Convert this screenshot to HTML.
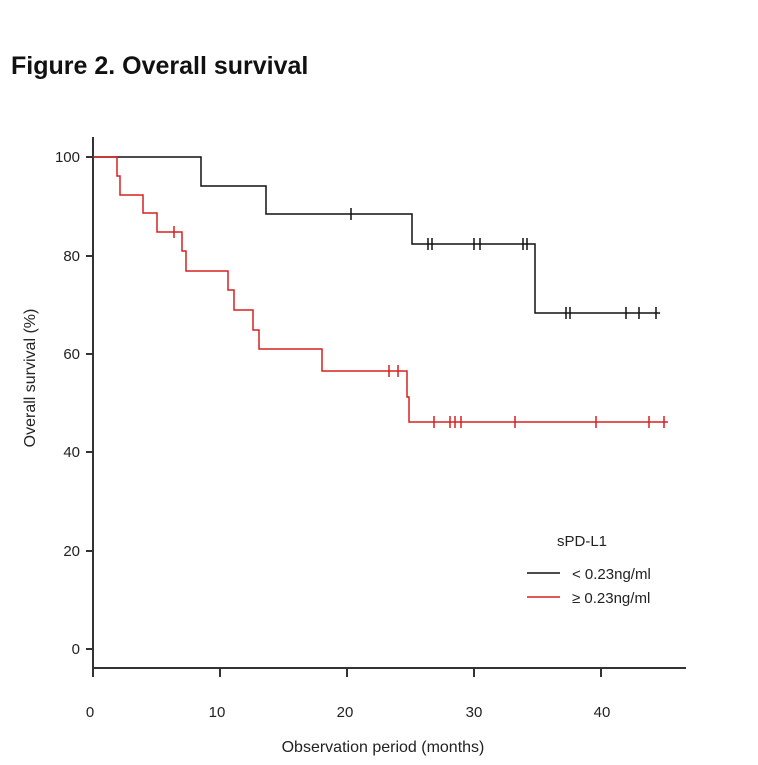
<!DOCTYPE html>
<html><head><meta charset="utf-8"><style>
body{margin:0;background:#fff;width:758px;height:760px;overflow:hidden}
</style></head><body>
<svg width="758" height="760" xmlns="http://www.w3.org/2000/svg" font-family="Liberation Sans, sans-serif">
<text x="11" y="74" font-size="25" font-weight="bold" fill="#111">Figure 2. Overall survival</text>
<g stroke="#333" stroke-width="2" fill="none">
<line x1="93" y1="137" x2="93" y2="668"/>
<line x1="93" y1="668" x2="686" y2="668"/>
<line x1="86" y1="157" x2="93" y2="157"/><line x1="86" y1="256" x2="93" y2="256"/>
<line x1="86" y1="354" x2="93" y2="354"/><line x1="86" y1="452" x2="93" y2="452"/>
<line x1="86" y1="551" x2="93" y2="551"/><line x1="86" y1="649" x2="93" y2="649"/>
<line x1="93" y1="668" x2="93" y2="677"/><line x1="220" y1="668" x2="220" y2="677"/>
<line x1="347" y1="668" x2="347" y2="677"/><line x1="474" y1="668" x2="474" y2="677"/>
<line x1="601" y1="668" x2="601" y2="677"/>
</g>
<g font-size="15" fill="#222" text-anchor="end">
<text x="80" y="162">100</text><text x="80" y="261">80</text><text x="80" y="359">60</text>
<text x="80" y="457">40</text><text x="80" y="556">20</text><text x="80" y="654">0</text>
</g>
<g font-size="15" fill="#222" text-anchor="middle">
<text x="90" y="717">0</text><text x="217" y="717">10</text><text x="345" y="717">20</text>
<text x="474" y="717">30</text><text x="602" y="717">40</text>
</g>
<g font-size="16" fill="#222" text-anchor="middle">
<text x="383" y="752">Observation period (months)</text>
<text transform="translate(35,378) rotate(-90)">Overall survival (%)</text>
</g>
<polyline fill="none" stroke="#111" stroke-width="1.5" points="93,157 201,157 201,186 266,186 266,214 412,214 412,244 535,244 535,313 660,313"/>
<g stroke="#111" stroke-width="1.5">
<line x1="351" y1="208" x2="351" y2="220"/>
<line x1="428" y1="238" x2="428" y2="250"/><line x1="432" y1="238" x2="432" y2="250"/>
<line x1="474" y1="238" x2="474" y2="250"/><line x1="480" y1="238" x2="480" y2="250"/>
<line x1="523" y1="238" x2="523" y2="250"/><line x1="527" y1="238" x2="527" y2="250"/>
<line x1="566" y1="307" x2="566" y2="319"/><line x1="570" y1="307" x2="570" y2="319"/>
<line x1="626" y1="307" x2="626" y2="319"/><line x1="639" y1="307" x2="639" y2="319"/>
<line x1="656" y1="307" x2="656" y2="319"/>
</g>
<polyline fill="none" stroke="#d62020" stroke-width="1.5" points="93,157 117,157 117,176 120,176 120,195 143,195 143,213 157,213 157,232 182,232 182,251 186,251 186,271 228,271 228,290 234,290 234,310 253,310 253,330 259,330 259,349 322,349 322,371 407,371 407,397 409,397 409,422 668,422"/>
<g stroke="#d62020" stroke-width="1.5">
<line x1="174" y1="226" x2="174" y2="238"/>
<line x1="389" y1="365" x2="389" y2="377"/><line x1="398" y1="365" x2="398" y2="377"/>
<line x1="434" y1="416" x2="434" y2="428"/><line x1="450" y1="416" x2="450" y2="428"/>
<line x1="455" y1="416" x2="455" y2="428"/><line x1="461" y1="416" x2="461" y2="428"/>
<line x1="515" y1="416" x2="515" y2="428"/><line x1="596" y1="416" x2="596" y2="428"/>
<line x1="649" y1="416" x2="649" y2="428"/><line x1="664" y1="416" x2="664" y2="428"/>
</g>
<text x="557" y="546" font-size="15" fill="#222">sPD-L1</text>
<line x1="527" y1="573" x2="560" y2="573" stroke="#111" stroke-width="1.5"/>
<line x1="527" y1="597" x2="560" y2="597" stroke="#d62020" stroke-width="1.5"/>
<text x="572" y="579" font-size="15" fill="#222">&lt; 0.23ng/ml</text>
<text x="572" y="603" font-size="15" fill="#222">≥ 0.23ng/ml</text>
</svg>
</body></html>
